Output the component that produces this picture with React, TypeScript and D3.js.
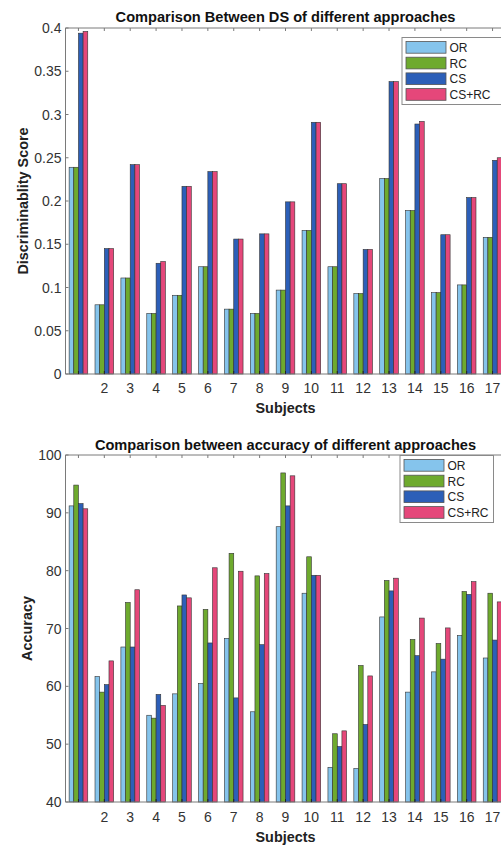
import React from "react";
import * as d3 from "d3";

const subjects = d3.range(1, 18);
const series = ["OR", "RC", "CS", "CS+RC"];
const colors = ["#85c4ec", "#6eaa2e", "#2c5fb8", "#e5477a"];

// discriminability score per subject
const dsOR = [0.239, 0.08, 0.111, 0.07, 0.091, 0.124, 0.075, 0.07, 0.097, 0.166, 0.124, 0.093, 0.226, 0.189, 0.094, 0.103, 0.158];
const dsRC = [0.239, 0.08, 0.111, 0.07, 0.091, 0.124, 0.075, 0.07, 0.097, 0.166, 0.124, 0.093, 0.226, 0.189, 0.094, 0.103, 0.158];
const dsCS = [0.394, 0.145, 0.242, 0.128, 0.217, 0.234, 0.156, 0.162, 0.199, 0.291, 0.22, 0.144, 0.338, 0.289, 0.161, 0.204, 0.247];
const dsCSRC = [0.396, 0.145, 0.242, 0.13, 0.217, 0.234, 0.156, 0.162, 0.199, 0.291, 0.22, 0.144, 0.338, 0.292, 0.161, 0.204, 0.25];

// accuracy per subject
const accOR = [91.2, 61.7, 66.8, 55.0, 58.7, 60.5, 68.3, 55.6, 87.6, 76.1, 46.0, 45.8, 72.0, 59.0, 62.5, 68.8, 64.9];
const accRC = [94.8, 59.0, 74.5, 54.5, 73.9, 73.3, 83.0, 79.1, 96.9, 82.4, 51.8, 63.6, 78.3, 68.1, 67.4, 76.4, 76.1];
const accCS = [91.6, 60.3, 66.8, 58.6, 75.8, 67.5, 58.0, 67.2, 91.2, 79.2, 49.6, 53.4, 76.5, 65.3, 64.7, 75.9, 68.0];
const accCSRC = [90.7, 64.4, 76.7, 56.7, 75.3, 80.5, 79.9, 79.5, 96.4, 79.2, 52.3, 61.8, 78.7, 71.8, 70.1, 78.1, 74.6];

const dsTicks = [0, 0.05, 0.1, 0.15, 0.2, 0.25, 0.3, 0.35, 0.4];
const accTicks = [40, 50, 60, 70, 80, 90, 100];
const xTickLabels = subjects.filter((s) => s >= 2);

const font = "'Liberation Sans', Arial, sans-serif";
const axisColor = "#7a7a7a";

type PanelProps = {
  title: string;
  ylabel: string;
  data: number[][];
  yDomain: [number, number];
  yTicks: number[];
  yFmt: (v: number) => string;
  top: number;
  bottom: number;
  titleY: number;
  ylabelX: number;
  tickLabelY: number;
  xlabelY: number;
  legend: { x: number; y: number; w: number };
};

function Panel(p: PanelProps) {
  const x = d3.scaleLinear().domain([0.5, 17.5]).range([65.5, 505.5]);
  const y = d3.scaleLinear().domain(p.yDomain).range([p.bottom, p.top]);
  const inner = d3.scaleBand().domain(series).range([-0.36, 0.36]).padding(0);
  const unit = x(1) - x(0);
  const left = x(0.5);
  const right = x(17.5);
  const rowH = 15.7;
  return (
    <g>
      <text x={285.5} y={p.titleY} textAnchor="middle" fontWeight="bold" fontSize={14.6} fill="#111">
        {p.title}
      </text>
      {/* bars */}
      {subjects.map((s, i) => (
        <g key={s}>
          {series.map((name, k) => {
            const v = p.data[k][i];
            return (
              <rect
                key={name}
                x={x(s + (inner(name) as number))}
                width={inner.bandwidth() * unit}
                y={y(v)}
                height={y(p.yDomain[0]) - y(v)}
                fill={colors[k]}
                stroke="#333"
                strokeWidth={0.6}
              />
            );
          })}
        </g>
      ))}
      {/* axes box */}
      <line x1={left} x2={right} y1={p.top} y2={p.top} stroke={axisColor} />
      <line x1={left} x2={right} y1={p.bottom} y2={p.bottom} stroke={axisColor} />
      <line x1={left} x2={left} y1={p.top} y2={p.bottom} stroke={axisColor} />
      {subjects.map((s) => (
        <g key={s}>
          <line x1={x(s)} x2={x(s)} y1={p.top} y2={p.top + 3} stroke={axisColor} />
          <line x1={x(s)} x2={x(s)} y1={p.bottom} y2={p.bottom - 3} stroke="#222" />
        </g>
      ))}
      {xTickLabels.map((s) => (
        <text key={s} x={x(s)} y={p.tickLabelY} textAnchor="middle" fontSize={14} fill="#333">
          {s}
        </text>
      ))}
      {p.yTicks.map((t) => (
        <g key={t}>
          <line x1={left} x2={left + 3} y1={y(t)} y2={y(t)} stroke={axisColor} />
          <text x={61.5} y={y(t) + 5} textAnchor="end" fontSize={14} fill="#333">
            {p.yFmt(t)}
          </text>
        </g>
      ))}
      <text x={285.5} y={p.xlabelY} textAnchor="middle" fontWeight="bold" fontSize={14.4} fill="#222">
        Subjects
      </text>
      <text
        transform={`translate(${p.ylabelX},${(p.top + p.bottom) / 2}) rotate(-90)`}
        textAnchor="middle"
        fontWeight="bold"
        fontSize={14.4}
        fill="#222"
      >
        {p.ylabel}
      </text>
      {/* legend */}
      <g transform={`translate(${p.legend.x},${p.legend.y})`}>
        <rect x={0} y={0} width={p.legend.w} height={67} fill="#fff" stroke="#8a8a8a" strokeWidth={1} />
        {series.map((name, k) => (
          <g key={name} transform={`translate(0,${4 + k * rowH})`}>
            <rect x={4} y={0} width={40} height={11.7} fill={colors[k]} stroke="#555" strokeWidth={0.8} />
            <text x={47.5} y={10.5} fontSize={12} fill="#222">
              {name}
            </text>
          </g>
        ))}
      </g>
    </g>
  );
}

export default function App() {
  return (
    <svg
      width={501}
      height={847}
      viewBox="0 0 501 847"
      style={{ position: "absolute", left: 0, top: 0, background: "#fff", fontFamily: font }}
    >
      <Panel
        title="Comparison Between DS of different approaches"
        ylabel="Discriminablity Score"
        data={[dsOR, dsRC, dsCS, dsCSRC]}
        yDomain={[0, 0.4]}
        yTicks={dsTicks}
        yFmt={(v) => (v === 0 ? "0" : String(v))}
        top={28}
        bottom={374}
        titleY={21.7}
        ylabelX={27.5}
        tickLabelY={393}
        xlabelY={413}
        legend={{ x: 402, y: 37.5, w: 100 }}
      />
      <Panel
        title="Comparison between accuracy of different approaches"
        ylabel="Accuracy"
        data={[accOR, accRC, accCS, accCSRC]}
        yDomain={[40, 100]}
        yTicks={accTicks}
        yFmt={(v) => String(v)}
        top={455}
        bottom={802}
        titleY={449.5}
        ylabelX={32}
        tickLabelY={822}
        xlabelY={842}
        legend={{ x: 400, y: 455.5, w: 93.5 }}
      />
    </svg>
  );
}
